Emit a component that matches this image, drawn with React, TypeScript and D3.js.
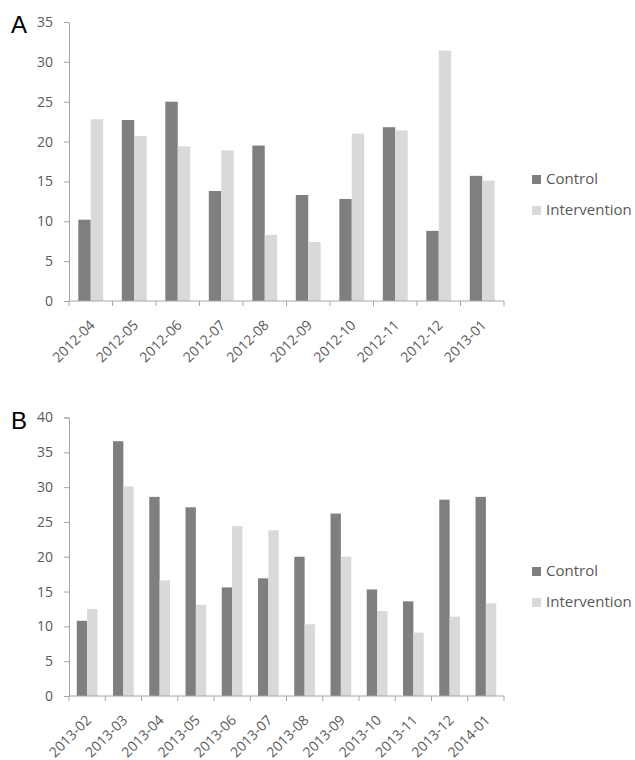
import { useEffect, useRef } from 'react';
import * as d3 from 'd3';

// Panel A: 2012-04 .. 2013-01
const monthsA = ['2012-04', '2012-05', '2012-06', '2012-07', '2012-08', '2012-09', '2012-10', '2012-11', '2012-12', '2013-01'];
const controlA = [10.2, 22.7, 25.0, 13.8, 19.5, 13.3, 12.8, 21.8, 8.8, 15.7];
const interventionA = [22.8, 20.7, 19.4, 18.9, 8.3, 7.4, 21.0, 21.4, 31.4, 15.1];
const ticksA = [0, 5, 10, 15, 20, 25, 30, 35];

// Panel B: 2013-02 .. 2014-01
const monthsB = ['2013-02', '2013-03', '2013-04', '2013-05', '2013-06', '2013-07', '2013-08', '2013-09', '2013-10', '2013-11', '2013-12', '2014-01'];
const controlB = [10.8, 36.6, 28.6, 27.1, 15.6, 16.9, 20.0, 26.2, 15.3, 13.6, 28.2, 28.6];
const interventionB = [12.5, 30.1, 16.6, 13.1, 24.4, 23.8, 10.3, 20.0, 12.2, 9.1, 11.4, 13.3];
const ticksB = [0, 5, 10, 15, 20, 25, 30, 35, 40];

const seriesNames = ['Control', 'Intervention'];
const seriesColors = ['#7f7f7f', '#d9d9d9'];

const FONT = "'Open Sans', 'DejaVu Sans', sans-serif";

interface PanelSpec {
  letter: string;
  months: string[];
  control: number[];
  intervention: number[];
  ticks: number[];
  top: number;
  bottom: number;
  legendY: number;
}

const App = () => {
  const svgRef = useRef<SVGSVGElement | null>(null);

  useEffect(() => {
    if (!svgRef.current) return;
    const svg = d3.select(svgRef.current);
    svg.selectAll('*').remove();

    const left = 69;
    const right = 504;

    const drawPanel = (p: PanelSpec) => {
      const g = svg.append('g');
      const yMax = p.ticks[p.ticks.length - 1];

      const x = d3.scaleBand<string>().domain(p.months).range([left, right]);
      const y = d3.scaleLinear().domain([0, yMax]).range([p.bottom, p.top]);
      const barW = x.bandwidth() / 3.5;
      const groupW = barW * 2;

      // bars
      const series = [p.control, p.intervention];
      series.forEach((vals, si) => {
        g.append('g')
          .selectAll('rect')
          .data(vals)
          .join('rect')
          .attr('x', (_, i) => (x(p.months[i]) as number) + (x.bandwidth() - groupW) / 2 + si * barW)
          .attr('y', (d) => y(d))
          .attr('width', barW)
          .attr('height', (d) => y(0) - y(d))
          .attr('fill', seriesColors[si]);
      });

      // y axis
      const yAxis = g.append('g')
        .attr('transform', `translate(${left},0)`)
        .call(d3.axisLeft(y).tickValues(p.ticks).tickSize(5).tickPadding(11).tickFormat(d3.format('d')));
      yAxis.select('.domain').attr('stroke', '#a6a6a6');
      yAxis.selectAll('.tick line').attr('stroke', '#a6a6a6');
      yAxis.selectAll('.tick text')
        .attr('fill', '#595959')
        .attr('font-family', FONT)
        .attr('font-size', 14);

      // x axis line + boundary ticks
      const axisColor = '#a6a6a6';
      g.append('line')
        .attr('x1', left).attr('x2', right)
        .attr('y1', p.bottom).attr('y2', p.bottom)
        .attr('stroke', axisColor);
      const bounds = p.months.map((m) => x(m) as number).concat([right]);
      g.append('g')
        .selectAll('line')
        .data(bounds)
        .join('line')
        .attr('x1', (d) => d).attr('x2', (d) => d)
        .attr('y1', p.bottom).attr('y2', p.bottom + 5)
        .attr('stroke', axisColor);

      g.append('g')
        .selectAll('text')
        .data(p.months)
        .join('text')
        .attr('transform', (d) => `translate(${(x(d) as number) + x.bandwidth() / 2 + 5},${p.bottom + 25}) rotate(-45)`)
        .attr('text-anchor', 'end')
        .attr('fill', '#595959')
        .attr('font-family', FONT)
        .attr('font-size', 14)
        .text((d) => d);

      // panel letter
      g.append('text')
        .attr('x', 11)
        .attr('y', p.top + 11)
        .attr('font-family', "'Liberation Sans', Arial, sans-serif")
        .attr('font-size', 24)
        .attr('fill', '#000')
        .text(p.letter);

      // legend
      seriesNames.forEach((name, i) => {
        const ly = p.legendY + i * 31;
        g.append('rect')
          .attr('x', 532).attr('y', ly - 9)
          .attr('width', 9).attr('height', 9)
          .attr('fill', seriesColors[i]);
        g.append('text')
          .attr('x', 546).attr('y', ly)
          .attr('fill', '#595959')
          .attr('font-family', FONT)
          .attr('font-size', 15)
          .text(name);
      });
    };

    drawPanel({
      letter: 'A', months: monthsA, control: controlA, intervention: interventionA,
      ticks: ticksA, top: 22, bottom: 301, legendY: 184,
    });
    drawPanel({
      letter: 'B', months: monthsB, control: controlB, intervention: interventionB,
      ticks: ticksB, top: 417.5, bottom: 696, legendY: 576,
    });
  }, []);

  return (
    <svg
      ref={svgRef}
      width={635}
      height={760}
      style={{ position: 'absolute', left: 0, top: 0, background: '#fff' }}
    />
  );
};

export default App;
